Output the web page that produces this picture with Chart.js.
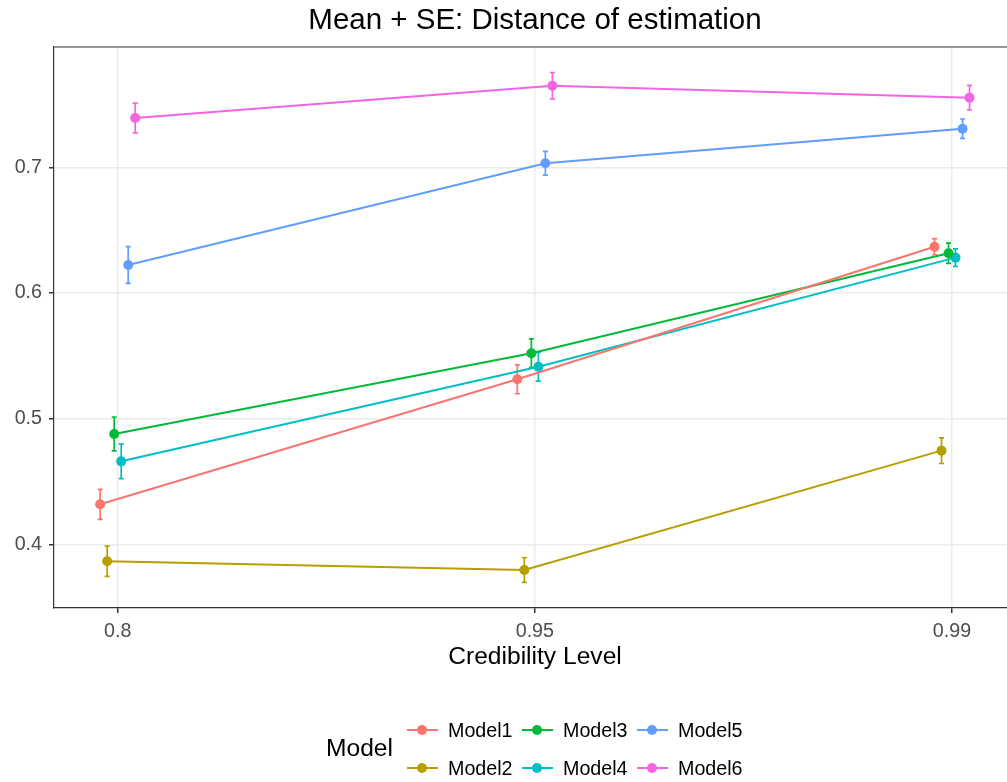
<!DOCTYPE html>
<html>
<head>
<meta charset="utf-8">
<script src="https://cdn.jsdelivr.net/npm/chart.js@4.4.1/dist/chart.umd.min.js"></script>
<style>
  body { margin: 0; background: #fff; }
  /* the original is cropped on the right, so the canvas is a bit wider than the page */
  #wrap { position: relative; width: 1007px; height: 782px; overflow: hidden; font-family: "Liberation Sans", Arial, sans-serif; }
  #chart { display: block; }
  #legend { position: absolute; left: 0; top: 0; width: 1007px; height: 782px; pointer-events: none; }
  .leg-title { position: absolute; left: 326px; top: 733px; font-size: 24.6px; color: #000; line-height: 30px; }
  .leg-item { position: absolute; height: 20px; }
  .leg-item .key { position: absolute; left: 0; top: 9px; width: 31px; height: 2px; }
  .leg-item .dot { position: absolute; left: 10px; top: 5px; width: 10px; height: 10px; border-radius: 50%; }
  .leg-item .lbl { position: absolute; left: 41px; top: -2px; font-size: 19.7px; line-height: 24px; color: #000; white-space: nowrap; }
</style>
</head>
<body>
<div id="wrap">
  <canvas id="chart" width="1016" height="782"></canvas>
  <div id="legend"><div class="leg-title">Model</div></div>
</div>
<script>
const levels = ["0.8", "0.95", "0.99"];
const yTicks = [0.4, 0.5, 0.6, 0.7];
const models = ["Model1", "Model2", "Model3", "Model4", "Model5", "Model6"];
const colors = ["#F8766D", "#B79F00", "#00BA38", "#00BFC4", "#619CFF", "#F564E3"];

// means per credibility level
const model1Mean = [0.4318, 0.5313, 0.6368];
const model2Mean = [0.3865, 0.3795, 0.4745];
const model3Mean = [0.4878, 0.5520, 0.6316];
const model4Mean = [0.4660, 0.5413, 0.6281];
const model5Mean = [0.6222, 0.7032, 0.7307];
const model6Mean = [0.7392, 0.7649, 0.7554];

// standard errors
const model1Se = [0.0119, 0.0115, 0.0064];
const model2Se = [0.0121, 0.0098, 0.0102];
const model3Se = [0.0135, 0.0114, 0.0080];
const model4Se = [0.0137, 0.0114, 0.0070];
const model5Se = [0.0146, 0.0095, 0.0077];
const model6Se = [0.0119, 0.0105, 0.0097];

const means = [model1Mean, model2Mean, model3Mean, model4Mean, model5Mean, model6Mean];
const ses = [model1Se, model2Se, model3Se, model4Se, model5Se, model6Se];

const titleText = "Mean + SE: Distance of estimation";
const dodge = 0.0168;

Chart.defaults.font.family = "'Liberation Sans', Arial, sans-serif";

const datasets = models.map((name, i) => ({
  label: name,
  data: means[i].map((m, j) => ({ x: j + (i - 2.5) * dodge, y: m })),
  showLine: true,
  borderColor: colors[i],
  backgroundColor: colors[i],
  borderWidth: 2,
  pointRadius: 5,
  pointBorderWidth: 0,
  pointBackgroundColor: colors[i],
}));

const errorBars = {
  id: "errorBars",
  beforeDatasetsDraw(chart) {
    const ctx = chart.ctx;
    const xs = chart.scales.x, ys = chart.scales.y;
    chart.data.datasets.forEach((ds, i) => {
      ctx.save();
      ctx.strokeStyle = ds.borderColor;
      ctx.lineWidth = 1.7;
      ds.data.forEach((p, j) => {
        const px = xs.getPixelForValue(p.x);
        const top = ys.getPixelForValue(p.y + ses[i][j]);
        const bot = ys.getPixelForValue(p.y - ses[i][j]);
        ctx.beginPath();
        ctx.moveTo(px, top); ctx.lineTo(px, bot);
        ctx.moveTo(px - 2.5, top); ctx.lineTo(px + 2.5, top);
        ctx.moveTo(px - 2.5, bot); ctx.lineTo(px + 2.5, bot);
        ctx.stroke();
      });
      ctx.restore();
    });
  },
  afterDraw(chart) {
    const { ctx, chartArea } = chart;
    ctx.save();
    // panel border on top
    ctx.strokeStyle = "#333333";
    ctx.lineWidth = 1.2;
    ctx.beginPath();
    ctx.moveTo(chartArea.left, chartArea.top);
    ctx.lineTo(chartArea.right, chartArea.top);
    ctx.stroke();
    // title centred on the panel, as ggplot does
    ctx.fillStyle = "#000";
    ctx.font = "29.5px 'Liberation Sans', Arial, sans-serif";
    ctx.textAlign = "center";
    ctx.textBaseline = "middle";
    ctx.fillText(titleText, (chartArea.left + chartArea.right) / 2, 21);
    ctx.restore();
  },
};

new Chart(document.getElementById("chart"), {
  type: "scatter",
  data: { datasets },
  plugins: [errorBars],
  options: {
    responsive: false,
    animation: false,
    events: [],
    layout: { autoPadding: false, padding: { left: 0, right: 0, top: 47, bottom: 108 } },
    scales: {
      x: {
        type: "linear",
        min: -0.1527,
        max: 2.1534,
        afterBuildTicks: (s) => { s.ticks = levels.map((_, i) => ({ value: i })); },
        afterFit: (s) => { s.height = 66; s.paddingLeft = 0; s.paddingRight = 0; },
        ticks: {
          callback: (v) => levels[v],
          color: "#4d4d4d",
          font: { size: 19.7 },
          padding: 7,
          autoSkip: false,
          maxRotation: 0,
        },
        grid: { color: "#ebebeb", lineWidth: 1.5, tickColor: "#333333", tickLength: 5 },
        border: { color: "#333333", width: 1.2 },
        title: { display: true, text: "Credibility Level", color: "#000", font: { size: 24.6 }, padding: { top: 0, bottom: 2.2 } },
      },
      y: {
        min: 0.3493,
        max: 0.7957,
        afterBuildTicks: (s) => { s.ticks = yTicks.map((v) => ({ value: v })); },
        afterFit: (s) => { s.width = 54; },
        ticks: {
          callback: (v) => v.toFixed(1),
          color: "#4d4d4d",
          font: { size: 19.7 },
          padding: 7,
        },
        grid: { color: "#ebebeb", lineWidth: 1.5, tickColor: "#333333", tickLength: 5 },
        border: { color: "#333333", width: 1.2 },
      },
    },
    plugins: {
      legend: { display: false },
      tooltip: { enabled: false },
      title: { display: false },
    },
  },
});

// legend, two rows filled by column like ggplot
const legend = document.getElementById("legend");
models.forEach((name, i) => {
  const item = document.createElement("div");
  item.className = "leg-item";
  item.style.left = (407 + Math.floor(i / 2) * 115) + "px";
  item.style.top = (720 + (i % 2) * 38) + "px";
  item.innerHTML = '<div class="key" style="background:' + colors[i] + '"></div>' +
    '<div class="dot" style="background:' + colors[i] + '"></div>' +
    '<div class="lbl">' + name + '</div>';
  legend.appendChild(item);
});
</script>
</body>
</html>
